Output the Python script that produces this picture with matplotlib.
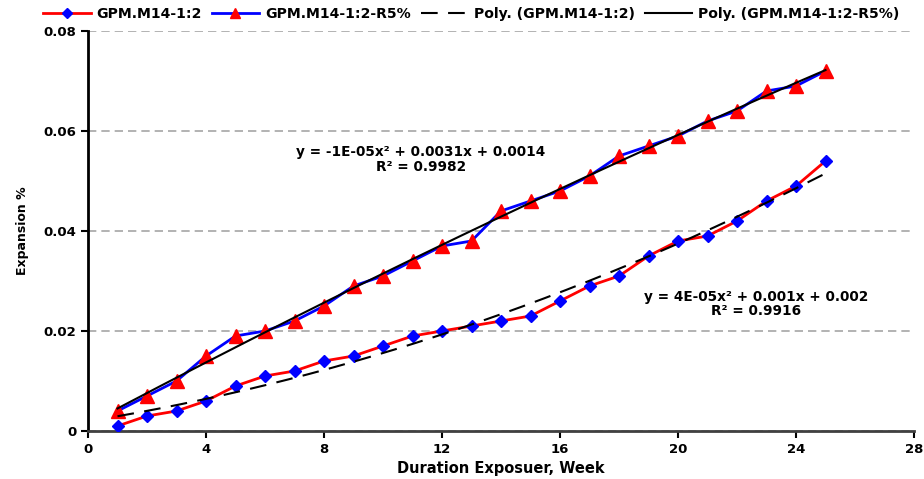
import numpy as np
import matplotlib
matplotlib.use("Agg")
import matplotlib.pyplot as plt

weeks = list(range(1, 26))
m14 = [0.001, 0.003, 0.004, 0.006, 0.009, 0.011, 0.012, 0.014, 0.015, 0.017,
       0.019, 0.020, 0.021, 0.022, 0.023, 0.026, 0.029, 0.031, 0.035, 0.038,
       0.039, 0.042, 0.046, 0.049, 0.054]
m14_r5 = [0.004, 0.007, 0.010, 0.015, 0.019, 0.020, 0.022, 0.025, 0.029, 0.031,
          0.034, 0.037, 0.038, 0.044, 0.046, 0.048, 0.051, 0.055, 0.057, 0.059,
          0.062, 0.064, 0.068, 0.069, 0.072]
xticks = [0, 4, 8, 12, 16, 20, 24, 28]
yticks = [0, 0.02, 0.04, 0.06, 0.08]
ytick_labels = ["0", "0.02", "0.04", "0.06", "0.08"]
eq1 = "y = -1E-05x² + 0.0031x + 0.0014\nR² = 0.9982"
eq2 = "y = 4E-05x² + 0.001x + 0.002\nR² = 0.9916"

plt.rcParams['font.family'] = ['DejaVu Sans']
fig = plt.figure(figsize=(9.24, 4.79), dpi=100)
W, H = 924, 479
ax = fig.add_axes([88 / W, (479 - 431) / H, (914 - 88) / W, (431 - 31) / H])

x = np.array(weeks, dtype=float)
xs = np.linspace(1, 25, 200)
p1 = np.polyfit(x, m14, 2)
p2 = np.polyfit(x, m14_r5, 2)

ax.plot(weeks, m14, color='#ff0000', lw=2, marker='D', ms=6.5,
        mfc='#0000ff', mec='#0000ff', label='GPM.M14-1:2', zorder=4)
ax.plot(weeks, m14_r5, color='#0000ff', lw=2, marker='^', ms=9.5,
        mfc='#ff0000', mec='#ff0000', label='GPM.M14-1:2-R5%', zorder=4)
ax.plot(xs, np.polyval(p1, xs), color='black', lw=1.5, ls=(0, (8, 5)),
        label='Poly. (GPM.M14-1:2)', zorder=5)
ax.plot(xs, np.polyval(p2, xs), color='black', lw=1.5,
        label='Poly. (GPM.M14-1:2-R5%)', zorder=5)

ax.set_xlim(0, 28)
ax.set_ylim(0, 0.08)
ax.set_xticks(xticks)
ax.set_yticks(yticks)
ax.set_yticklabels(ytick_labels)
for lab in ax.get_xticklabels() + ax.get_yticklabels():
    lab.set_fontweight('bold')
    lab.set_fontsize(9.5)
ax.yaxis.grid(True, color='#a6a6a6', ls=(0, (5, 3)), lw=1.2)
ax.set_axisbelow(True)
for s in ['top', 'right']:
    ax.spines[s].set_visible(False)
ax.spines['left'].set_linewidth(2)
ax.spines['bottom'].set_linewidth(2)
ax.spines['bottom'].set_color('#404040')
ax.tick_params(axis='both', direction='out', length=5, width=1.5)

ax.set_xlabel('Duration Exposuer, Week', fontsize=10.5, fontweight='bold', labelpad=4)
ax.set_ylabel('Expansion %', fontsize=9, fontweight='bold', labelpad=10)

ax.text(11.29, 0.0543, eq1, ha='center', va='center', fontsize=9.8,
        fontweight='bold', linespacing=1.05)
ax.text(22.64, 0.0254, eq2, ha='center', va='center', fontsize=9.8,
        fontweight='bold', linespacing=1.05)

fig.legend(loc='upper center', bbox_to_anchor=(0.51, 1.012), ncol=4,
           frameon=False, handlelength=3.4, columnspacing=0.7,
           handletextpad=0.4, markerscale=0.8,
           prop={'weight': 'bold', 'size': 10.1})

fig.savefig('out.png', dpi=100)
